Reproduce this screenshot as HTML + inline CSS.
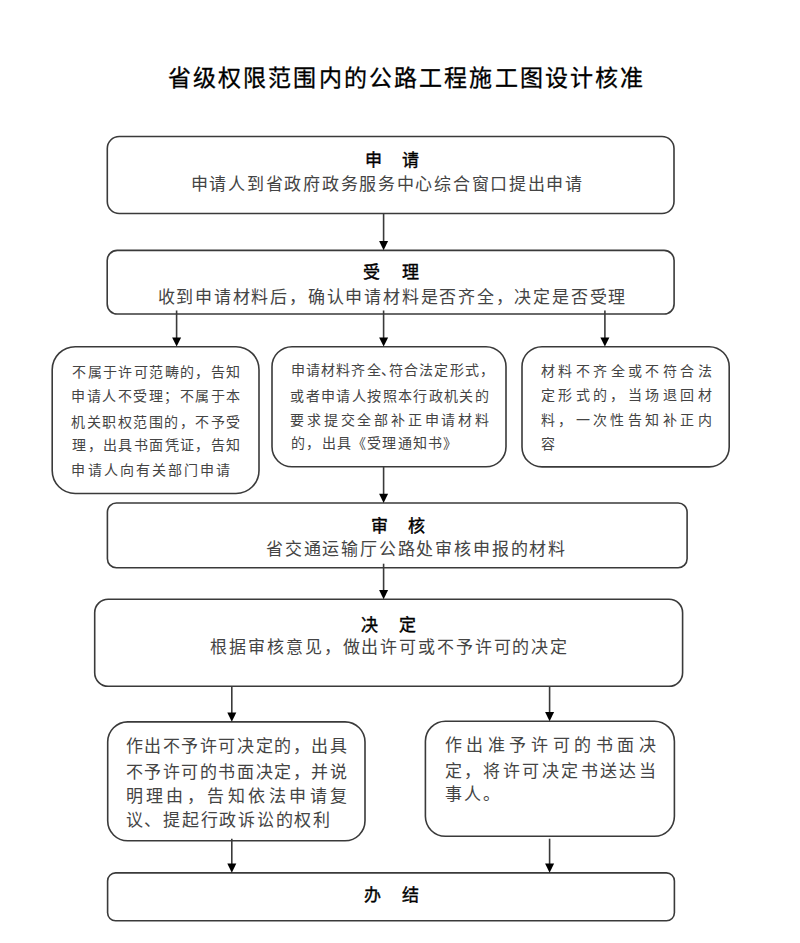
<!DOCTYPE html>
<html lang="zh-CN"><head><meta charset="utf-8"><style>
html,body{margin:0;padding:0;background:#fff;width:800px;height:943px;overflow:hidden}
#c{position:relative;width:800px;height:943px}
svg{position:absolute;left:0;top:0}
span{position:absolute;display:block;text-align:center;white-space:nowrap;font-family:"Liberation Sans", sans-serif;color:#111}
</style></head><body><div id="c">
<svg width="800" height="943" viewBox="0 0 800 943">
<rect x="107.3" y="136.5" width="566.70" height="77.00" rx="12" ry="12" fill="none" stroke="#3a3a3a" stroke-width="1.6"/>
<rect x="107.2" y="250.4" width="566.90" height="63.60" rx="10" ry="10" fill="none" stroke="#3a3a3a" stroke-width="1.6"/>
<rect x="52.2" y="346.7" width="206.80" height="146.80" rx="23" ry="23" fill="none" stroke="#3a3a3a" stroke-width="1.6"/>
<rect x="272.0" y="346.7" width="234.00" height="120.10" rx="20" ry="20" fill="none" stroke="#3a3a3a" stroke-width="1.6"/>
<rect x="522.0" y="346.7" width="207.20" height="120.20" rx="20" ry="20" fill="none" stroke="#3a3a3a" stroke-width="1.6"/>
<rect x="107.4" y="503.0" width="579.70" height="64.80" rx="9" ry="9" fill="none" stroke="#3a3a3a" stroke-width="1.6"/>
<rect x="94.7" y="599.2" width="587.90" height="87.10" rx="13.5" ry="13.5" fill="none" stroke="#3a3a3a" stroke-width="1.6"/>
<rect x="107.7" y="721.9" width="257.30" height="118.90" rx="20" ry="20" fill="none" stroke="#3a3a3a" stroke-width="1.6"/>
<rect x="425.4" y="721.3" width="249.00" height="115.00" rx="20" ry="20" fill="none" stroke="#3a3a3a" stroke-width="1.6"/>
<rect x="107.6" y="872.9" width="566.80" height="47.90" rx="8" ry="8" fill="none" stroke="#3a3a3a" stroke-width="1.6"/>
<line x1="383.6" y1="213.5" x2="383.6" y2="241.9" stroke="#3a3a3a" stroke-width="1.6"/>
<path d="M379.10 241.10 L388.10 241.10 L383.6 250.30 Z" fill="#000"/>
<line x1="176.6" y1="310.5" x2="176.6" y2="338.2" stroke="#3a3a3a" stroke-width="1.6"/>
<path d="M172.10 337.40 L181.10 337.40 L176.6 346.60 Z" fill="#000"/>
<line x1="383.6" y1="310.5" x2="383.6" y2="338.2" stroke="#3a3a3a" stroke-width="1.6"/>
<path d="M379.10 337.40 L388.10 337.40 L383.6 346.60 Z" fill="#000"/>
<line x1="604.9" y1="310.5" x2="604.9" y2="338.2" stroke="#3a3a3a" stroke-width="1.6"/>
<path d="M600.40 337.40 L609.40 337.40 L604.9 346.60 Z" fill="#000"/>
<line x1="383.6" y1="466.8" x2="383.6" y2="494.5" stroke="#3a3a3a" stroke-width="1.6"/>
<path d="M379.10 493.70 L388.10 493.70 L383.6 502.90 Z" fill="#000"/>
<line x1="383.6" y1="563.7" x2="383.6" y2="590.8" stroke="#3a3a3a" stroke-width="1.6"/>
<path d="M379.10 590.00 L388.10 590.00 L383.6 599.20 Z" fill="#000"/>
<line x1="231.8" y1="686.3" x2="231.8" y2="713.4" stroke="#3a3a3a" stroke-width="1.6"/>
<path d="M227.30 712.60 L236.30 712.60 L231.8 721.80 Z" fill="#000"/>
<line x1="549.6" y1="686.3" x2="549.6" y2="712.8" stroke="#3a3a3a" stroke-width="1.6"/>
<path d="M545.10 712.00 L554.10 712.00 L549.6 721.20 Z" fill="#000"/>
<line x1="231.8" y1="838.7" x2="231.8" y2="864.4" stroke="#3a3a3a" stroke-width="1.6"/>
<path d="M227.30 863.60 L236.30 863.60 L231.8 872.80 Z" fill="#000"/>
<line x1="549.6" y1="838.7" x2="549.6" y2="864.4" stroke="#3a3a3a" stroke-width="1.6"/>
<path d="M545.10 863.60 L554.10 863.60 L549.6 872.80 Z" fill="#000"/>
</svg>
<span style="left:167.62px;top:63.62px;width:23px;height:29px;line-height:29px;font-size:23px;-webkit-text-stroke:0.3px #000;color:#000;">省</span>
<span style="left:192.77px;top:63.62px;width:23px;height:29px;line-height:29px;font-size:23px;-webkit-text-stroke:0.3px #000;color:#000;">级</span>
<span style="left:217.93px;top:63.62px;width:23px;height:29px;line-height:29px;font-size:23px;-webkit-text-stroke:0.3px #000;color:#000;">权</span>
<span style="left:243.08px;top:63.62px;width:23px;height:29px;line-height:29px;font-size:23px;-webkit-text-stroke:0.3px #000;color:#000;">限</span>
<span style="left:268.23px;top:63.62px;width:23px;height:29px;line-height:29px;font-size:23px;-webkit-text-stroke:0.3px #000;color:#000;">范</span>
<span style="left:293.39px;top:63.62px;width:23px;height:29px;line-height:29px;font-size:23px;-webkit-text-stroke:0.3px #000;color:#000;">围</span>
<span style="left:318.54px;top:63.62px;width:23px;height:29px;line-height:29px;font-size:23px;-webkit-text-stroke:0.3px #000;color:#000;">内</span>
<span style="left:343.69px;top:63.62px;width:23px;height:29px;line-height:29px;font-size:23px;-webkit-text-stroke:0.3px #000;color:#000;">的</span>
<span style="left:368.85px;top:63.62px;width:23px;height:29px;line-height:29px;font-size:23px;-webkit-text-stroke:0.3px #000;color:#000;">公</span>
<span style="left:394.00px;top:63.62px;width:23px;height:29px;line-height:29px;font-size:23px;-webkit-text-stroke:0.3px #000;color:#000;">路</span>
<span style="left:419.15px;top:63.62px;width:23px;height:29px;line-height:29px;font-size:23px;-webkit-text-stroke:0.3px #000;color:#000;">工</span>
<span style="left:444.31px;top:63.62px;width:23px;height:29px;line-height:29px;font-size:23px;-webkit-text-stroke:0.3px #000;color:#000;">程</span>
<span style="left:469.46px;top:63.62px;width:23px;height:29px;line-height:29px;font-size:23px;-webkit-text-stroke:0.3px #000;color:#000;">施</span>
<span style="left:494.61px;top:63.62px;width:23px;height:29px;line-height:29px;font-size:23px;-webkit-text-stroke:0.3px #000;color:#000;">工</span>
<span style="left:519.77px;top:63.62px;width:23px;height:29px;line-height:29px;font-size:23px;-webkit-text-stroke:0.3px #000;color:#000;">图</span>
<span style="left:544.92px;top:63.62px;width:23px;height:29px;line-height:29px;font-size:23px;-webkit-text-stroke:0.3px #000;color:#000;">设</span>
<span style="left:570.07px;top:63.62px;width:23px;height:29px;line-height:29px;font-size:23px;-webkit-text-stroke:0.3px #000;color:#000;">计</span>
<span style="left:595.23px;top:63.62px;width:23px;height:29px;line-height:29px;font-size:23px;-webkit-text-stroke:0.3px #000;color:#000;">核</span>
<span style="left:620.38px;top:63.62px;width:23px;height:29px;line-height:29px;font-size:23px;-webkit-text-stroke:0.3px #000;color:#000;">准</span>
<span style="left:364.97px;top:149.57px;width:17px;height:21px;line-height:21px;font-size:17px;-webkit-text-stroke:0.4px #000;color:#000;">申</span>
<span style="left:401.78px;top:149.57px;width:17px;height:21px;line-height:21px;font-size:17px;-webkit-text-stroke:0.4px #000;color:#000;">请</span>
<span style="left:190.74px;top:173.69px;width:17px;height:21px;line-height:21px;font-size:17px;color:#444;">申</span>
<span style="left:209.46px;top:173.69px;width:17px;height:21px;line-height:21px;font-size:17px;color:#444;">请</span>
<span style="left:228.18px;top:173.69px;width:17px;height:21px;line-height:21px;font-size:17px;color:#444;">人</span>
<span style="left:246.90px;top:173.69px;width:17px;height:21px;line-height:21px;font-size:17px;color:#444;">到</span>
<span style="left:265.63px;top:173.69px;width:17px;height:21px;line-height:21px;font-size:17px;color:#444;">省</span>
<span style="left:284.35px;top:173.69px;width:17px;height:21px;line-height:21px;font-size:17px;color:#444;">政</span>
<span style="left:303.07px;top:173.69px;width:17px;height:21px;line-height:21px;font-size:17px;color:#444;">府</span>
<span style="left:321.79px;top:173.69px;width:17px;height:21px;line-height:21px;font-size:17px;color:#444;">政</span>
<span style="left:340.51px;top:173.69px;width:17px;height:21px;line-height:21px;font-size:17px;color:#444;">务</span>
<span style="left:359.23px;top:173.69px;width:17px;height:21px;line-height:21px;font-size:17px;color:#444;">服</span>
<span style="left:377.95px;top:173.69px;width:17px;height:21px;line-height:21px;font-size:17px;color:#444;">务</span>
<span style="left:396.68px;top:173.69px;width:17px;height:21px;line-height:21px;font-size:17px;color:#444;">中</span>
<span style="left:415.40px;top:173.69px;width:17px;height:21px;line-height:21px;font-size:17px;color:#444;">心</span>
<span style="left:434.12px;top:173.69px;width:17px;height:21px;line-height:21px;font-size:17px;color:#444;">综</span>
<span style="left:452.84px;top:173.69px;width:17px;height:21px;line-height:21px;font-size:17px;color:#444;">合</span>
<span style="left:471.56px;top:173.69px;width:17px;height:21px;line-height:21px;font-size:17px;color:#444;">窗</span>
<span style="left:490.28px;top:173.69px;width:17px;height:21px;line-height:21px;font-size:17px;color:#444;">口</span>
<span style="left:509.01px;top:173.69px;width:17px;height:21px;line-height:21px;font-size:17px;color:#444;">提</span>
<span style="left:527.73px;top:173.69px;width:17px;height:21px;line-height:21px;font-size:17px;color:#444;">出</span>
<span style="left:546.45px;top:173.69px;width:17px;height:21px;line-height:21px;font-size:17px;color:#444;">申</span>
<span style="left:565.17px;top:173.69px;width:17px;height:21px;line-height:21px;font-size:17px;color:#444;">请</span>
<span style="left:363.44px;top:262.27px;width:17px;height:21px;line-height:21px;font-size:17px;-webkit-text-stroke:0.4px #000;color:#000;">受</span>
<span style="left:402.24px;top:262.27px;width:17px;height:21px;line-height:21px;font-size:17px;-webkit-text-stroke:0.4px #000;color:#000;">理</span>
<span style="left:157.55px;top:286.86px;width:17px;height:21px;line-height:21px;font-size:17px;color:#444;">收</span>
<span style="left:176.34px;top:286.86px;width:17px;height:21px;line-height:21px;font-size:17px;color:#444;">到</span>
<span style="left:195.13px;top:286.86px;width:17px;height:21px;line-height:21px;font-size:17px;color:#444;">申</span>
<span style="left:213.91px;top:286.86px;width:17px;height:21px;line-height:21px;font-size:17px;color:#444;">请</span>
<span style="left:232.70px;top:286.86px;width:17px;height:21px;line-height:21px;font-size:17px;color:#444;">材</span>
<span style="left:251.48px;top:286.86px;width:17px;height:21px;line-height:21px;font-size:17px;color:#444;">料</span>
<span style="left:270.27px;top:286.86px;width:17px;height:21px;line-height:21px;font-size:17px;color:#444;">后</span>
<span style="left:289.05px;top:286.86px;width:17px;height:21px;line-height:21px;font-size:17px;color:#444;">，</span>
<span style="left:307.84px;top:286.86px;width:17px;height:21px;line-height:21px;font-size:17px;color:#444;">确</span>
<span style="left:326.62px;top:286.86px;width:17px;height:21px;line-height:21px;font-size:17px;color:#444;">认</span>
<span style="left:345.41px;top:286.86px;width:17px;height:21px;line-height:21px;font-size:17px;color:#444;">申</span>
<span style="left:364.19px;top:286.86px;width:17px;height:21px;line-height:21px;font-size:17px;color:#444;">请</span>
<span style="left:382.98px;top:286.86px;width:17px;height:21px;line-height:21px;font-size:17px;color:#444;">材</span>
<span style="left:401.76px;top:286.86px;width:17px;height:21px;line-height:21px;font-size:17px;color:#444;">料</span>
<span style="left:420.55px;top:286.86px;width:17px;height:21px;line-height:21px;font-size:17px;color:#444;">是</span>
<span style="left:439.33px;top:286.86px;width:17px;height:21px;line-height:21px;font-size:17px;color:#444;">否</span>
<span style="left:458.12px;top:286.86px;width:17px;height:21px;line-height:21px;font-size:17px;color:#444;">齐</span>
<span style="left:476.90px;top:286.86px;width:17px;height:21px;line-height:21px;font-size:17px;color:#444;">全</span>
<span style="left:495.69px;top:286.86px;width:17px;height:21px;line-height:21px;font-size:17px;color:#444;">，</span>
<span style="left:514.47px;top:286.86px;width:17px;height:21px;line-height:21px;font-size:17px;color:#444;">决</span>
<span style="left:533.26px;top:286.86px;width:17px;height:21px;line-height:21px;font-size:17px;color:#444;">定</span>
<span style="left:552.04px;top:286.86px;width:17px;height:21px;line-height:21px;font-size:17px;color:#444;">是</span>
<span style="left:570.83px;top:286.86px;width:17px;height:21px;line-height:21px;font-size:17px;color:#444;">否</span>
<span style="left:589.61px;top:286.86px;width:17px;height:21px;line-height:21px;font-size:17px;color:#444;">受</span>
<span style="left:608.40px;top:286.86px;width:17px;height:21px;line-height:21px;font-size:17px;color:#444;">理</span>
<span style="left:72.16px;top:362.88px;width:14px;height:18px;line-height:18px;font-size:14px;color:#444;">不</span>
<span style="left:87.55px;top:362.88px;width:14px;height:18px;line-height:18px;font-size:14px;color:#444;">属</span>
<span style="left:102.94px;top:362.88px;width:14px;height:18px;line-height:18px;font-size:14px;color:#444;">于</span>
<span style="left:118.33px;top:362.88px;width:14px;height:18px;line-height:18px;font-size:14px;color:#444;">许</span>
<span style="left:133.72px;top:362.88px;width:14px;height:18px;line-height:18px;font-size:14px;color:#444;">可</span>
<span style="left:149.12px;top:362.88px;width:14px;height:18px;line-height:18px;font-size:14px;color:#444;">范</span>
<span style="left:164.51px;top:362.88px;width:14px;height:18px;line-height:18px;font-size:14px;color:#444;">畴</span>
<span style="left:179.90px;top:362.88px;width:14px;height:18px;line-height:18px;font-size:14px;color:#444;">的</span>
<span style="left:195.29px;top:362.88px;width:14px;height:18px;line-height:18px;font-size:14px;color:#444;">，</span>
<span style="left:210.68px;top:362.88px;width:14px;height:18px;line-height:18px;font-size:14px;color:#444;">告</span>
<span style="left:226.07px;top:362.88px;width:14px;height:18px;line-height:18px;font-size:14px;color:#444;">知</span>
<span style="left:71.46px;top:387.47px;width:14px;height:18px;line-height:18px;font-size:14px;color:#444;">申</span>
<span style="left:86.92px;top:387.47px;width:14px;height:18px;line-height:18px;font-size:14px;color:#444;">请</span>
<span style="left:102.38px;top:387.47px;width:14px;height:18px;line-height:18px;font-size:14px;color:#444;">人</span>
<span style="left:117.84px;top:387.47px;width:14px;height:18px;line-height:18px;font-size:14px;color:#444;">不</span>
<span style="left:133.30px;top:387.47px;width:14px;height:18px;line-height:18px;font-size:14px;color:#444;">受</span>
<span style="left:148.77px;top:387.47px;width:14px;height:18px;line-height:18px;font-size:14px;color:#444;">理</span>
<span style="left:164.23px;top:387.47px;width:14px;height:18px;line-height:18px;font-size:14px;color:#444;">；</span>
<span style="left:179.69px;top:387.47px;width:14px;height:18px;line-height:18px;font-size:14px;color:#444;">不</span>
<span style="left:195.15px;top:387.47px;width:14px;height:18px;line-height:18px;font-size:14px;color:#444;">属</span>
<span style="left:210.61px;top:387.47px;width:14px;height:18px;line-height:18px;font-size:14px;color:#444;">于</span>
<span style="left:226.07px;top:387.47px;width:14px;height:18px;line-height:18px;font-size:14px;color:#444;">本</span>
<span style="left:71.31px;top:412.52px;width:14px;height:18px;line-height:18px;font-size:14px;color:#444;">机</span>
<span style="left:86.79px;top:412.52px;width:14px;height:18px;line-height:18px;font-size:14px;color:#444;">关</span>
<span style="left:102.26px;top:412.52px;width:14px;height:18px;line-height:18px;font-size:14px;color:#444;">职</span>
<span style="left:117.74px;top:412.52px;width:14px;height:18px;line-height:18px;font-size:14px;color:#444;">权</span>
<span style="left:133.21px;top:412.52px;width:14px;height:18px;line-height:18px;font-size:14px;color:#444;">范</span>
<span style="left:148.69px;top:412.52px;width:14px;height:18px;line-height:18px;font-size:14px;color:#444;">围</span>
<span style="left:164.17px;top:412.52px;width:14px;height:18px;line-height:18px;font-size:14px;color:#444;">的</span>
<span style="left:179.64px;top:412.52px;width:14px;height:18px;line-height:18px;font-size:14px;color:#444;">，</span>
<span style="left:195.12px;top:412.52px;width:14px;height:18px;line-height:18px;font-size:14px;color:#444;">不</span>
<span style="left:210.59px;top:412.52px;width:14px;height:18px;line-height:18px;font-size:14px;color:#444;">予</span>
<span style="left:226.07px;top:412.52px;width:14px;height:18px;line-height:18px;font-size:14px;color:#444;">受</span>
<span style="left:72.16px;top:435.98px;width:14px;height:18px;line-height:18px;font-size:14px;color:#444;">理</span>
<span style="left:87.55px;top:435.98px;width:14px;height:18px;line-height:18px;font-size:14px;color:#444;">，</span>
<span style="left:102.94px;top:435.98px;width:14px;height:18px;line-height:18px;font-size:14px;color:#444;">出</span>
<span style="left:118.33px;top:435.98px;width:14px;height:18px;line-height:18px;font-size:14px;color:#444;">具</span>
<span style="left:133.72px;top:435.98px;width:14px;height:18px;line-height:18px;font-size:14px;color:#444;">书</span>
<span style="left:149.12px;top:435.98px;width:14px;height:18px;line-height:18px;font-size:14px;color:#444;">面</span>
<span style="left:164.51px;top:435.98px;width:14px;height:18px;line-height:18px;font-size:14px;color:#444;">凭</span>
<span style="left:179.90px;top:435.98px;width:14px;height:18px;line-height:18px;font-size:14px;color:#444;">证</span>
<span style="left:195.29px;top:435.98px;width:14px;height:18px;line-height:18px;font-size:14px;color:#444;">，</span>
<span style="left:210.68px;top:435.98px;width:14px;height:18px;line-height:18px;font-size:14px;color:#444;">告</span>
<span style="left:226.07px;top:435.98px;width:14px;height:18px;line-height:18px;font-size:14px;color:#444;">知</span>
<span style="left:71.46px;top:460.90px;width:14px;height:18px;line-height:18px;font-size:14px;color:#444;">申</span>
<span style="left:87.50px;top:460.90px;width:14px;height:18px;line-height:18px;font-size:14px;color:#444;">请</span>
<span style="left:103.54px;top:460.90px;width:14px;height:18px;line-height:18px;font-size:14px;color:#444;">人</span>
<span style="left:119.59px;top:460.90px;width:14px;height:18px;line-height:18px;font-size:14px;color:#444;">向</span>
<span style="left:135.63px;top:460.90px;width:14px;height:18px;line-height:18px;font-size:14px;color:#444;">有</span>
<span style="left:151.67px;top:460.90px;width:14px;height:18px;line-height:18px;font-size:14px;color:#444;">关</span>
<span style="left:167.71px;top:460.90px;width:14px;height:18px;line-height:18px;font-size:14px;color:#444;">部</span>
<span style="left:183.76px;top:460.90px;width:14px;height:18px;line-height:18px;font-size:14px;color:#444;">门</span>
<span style="left:199.80px;top:460.90px;width:14px;height:18px;line-height:18px;font-size:14px;color:#444;">申</span>
<span style="left:215.84px;top:460.90px;width:14px;height:18px;line-height:18px;font-size:14px;color:#444;">请</span>
<span style="left:290.53px;top:361.13px;width:14px;height:18px;line-height:18px;font-size:14px;color:#444;">申</span>
<span style="left:305.76px;top:361.13px;width:14px;height:18px;line-height:18px;font-size:14px;color:#444;">请</span>
<span style="left:320.98px;top:361.13px;width:14px;height:18px;line-height:18px;font-size:14px;color:#444;">材</span>
<span style="left:336.21px;top:361.13px;width:14px;height:18px;line-height:18px;font-size:14px;color:#444;">料</span>
<span style="left:351.44px;top:361.13px;width:14px;height:18px;line-height:18px;font-size:14px;color:#444;">齐</span>
<span style="left:366.66px;top:361.13px;width:14px;height:18px;line-height:18px;font-size:14px;color:#444;">全</span>
<span style="left:380.58px;top:361.13px;width:14px;height:18px;line-height:18px;font-size:14px;color:#444;">、</span>
<span style="left:388.74px;top:361.13px;width:14px;height:18px;line-height:18px;font-size:14px;color:#444;">符</span>
<span style="left:403.97px;top:361.13px;width:14px;height:18px;line-height:18px;font-size:14px;color:#444;">合</span>
<span style="left:419.19px;top:361.13px;width:14px;height:18px;line-height:18px;font-size:14px;color:#444;">法</span>
<span style="left:434.42px;top:361.13px;width:14px;height:18px;line-height:18px;font-size:14px;color:#444;">定</span>
<span style="left:449.65px;top:361.13px;width:14px;height:18px;line-height:18px;font-size:14px;color:#444;">形</span>
<span style="left:464.87px;top:361.13px;width:14px;height:18px;line-height:18px;font-size:14px;color:#444;">式</span>
<span style="left:480.10px;top:361.13px;width:14px;height:18px;line-height:18px;font-size:14px;color:#444;">，</span>
<span style="left:290.39px;top:386.94px;width:14px;height:18px;line-height:18px;font-size:14px;color:#444;">或</span>
<span style="left:305.75px;top:386.94px;width:14px;height:18px;line-height:18px;font-size:14px;color:#444;">者</span>
<span style="left:321.11px;top:386.94px;width:14px;height:18px;line-height:18px;font-size:14px;color:#444;">申</span>
<span style="left:336.47px;top:386.94px;width:14px;height:18px;line-height:18px;font-size:14px;color:#444;">请</span>
<span style="left:351.82px;top:386.94px;width:14px;height:18px;line-height:18px;font-size:14px;color:#444;">人</span>
<span style="left:367.18px;top:386.94px;width:14px;height:18px;line-height:18px;font-size:14px;color:#444;">按</span>
<span style="left:382.54px;top:386.94px;width:14px;height:18px;line-height:18px;font-size:14px;color:#444;">照</span>
<span style="left:397.90px;top:386.94px;width:14px;height:18px;line-height:18px;font-size:14px;color:#444;">本</span>
<span style="left:413.26px;top:386.94px;width:14px;height:18px;line-height:18px;font-size:14px;color:#444;">行</span>
<span style="left:428.62px;top:386.94px;width:14px;height:18px;line-height:18px;font-size:14px;color:#444;">政</span>
<span style="left:443.97px;top:386.94px;width:14px;height:18px;line-height:18px;font-size:14px;color:#444;">机</span>
<span style="left:459.33px;top:386.94px;width:14px;height:18px;line-height:18px;font-size:14px;color:#444;">关</span>
<span style="left:474.69px;top:386.94px;width:14px;height:18px;line-height:18px;font-size:14px;color:#444;">的</span>
<span style="left:290.39px;top:411.17px;width:14px;height:18px;line-height:18px;font-size:14px;color:#444;">要</span>
<span style="left:307.16px;top:411.17px;width:14px;height:18px;line-height:18px;font-size:14px;color:#444;">求</span>
<span style="left:323.93px;top:411.17px;width:14px;height:18px;line-height:18px;font-size:14px;color:#444;">提</span>
<span style="left:340.69px;top:411.17px;width:14px;height:18px;line-height:18px;font-size:14px;color:#444;">交</span>
<span style="left:357.46px;top:411.17px;width:14px;height:18px;line-height:18px;font-size:14px;color:#444;">全</span>
<span style="left:374.23px;top:411.17px;width:14px;height:18px;line-height:18px;font-size:14px;color:#444;">部</span>
<span style="left:391.00px;top:411.17px;width:14px;height:18px;line-height:18px;font-size:14px;color:#444;">补</span>
<span style="left:407.77px;top:411.17px;width:14px;height:18px;line-height:18px;font-size:14px;color:#444;">正</span>
<span style="left:424.54px;top:411.17px;width:14px;height:18px;line-height:18px;font-size:14px;color:#444;">申</span>
<span style="left:441.30px;top:411.17px;width:14px;height:18px;line-height:18px;font-size:14px;color:#444;">请</span>
<span style="left:458.07px;top:411.17px;width:14px;height:18px;line-height:18px;font-size:14px;color:#444;">材</span>
<span style="left:474.84px;top:411.17px;width:14px;height:18px;line-height:18px;font-size:14px;color:#444;">料</span>
<span style="left:291.16px;top:434.46px;width:14px;height:18px;line-height:18px;font-size:14px;color:#444;">的</span>
<span style="left:306.37px;top:434.46px;width:14px;height:18px;line-height:18px;font-size:14px;color:#444;">，</span>
<span style="left:321.58px;top:434.46px;width:14px;height:18px;line-height:18px;font-size:14px;color:#444;">出</span>
<span style="left:336.78px;top:434.46px;width:14px;height:18px;line-height:18px;font-size:14px;color:#444;">具</span>
<span style="left:351.99px;top:434.46px;width:14px;height:18px;line-height:18px;font-size:14px;color:#444;">《</span>
<span style="left:367.20px;top:434.46px;width:14px;height:18px;line-height:18px;font-size:14px;color:#444;">受</span>
<span style="left:382.41px;top:434.46px;width:14px;height:18px;line-height:18px;font-size:14px;color:#444;">理</span>
<span style="left:397.62px;top:434.46px;width:14px;height:18px;line-height:18px;font-size:14px;color:#444;">通</span>
<span style="left:412.82px;top:434.46px;width:14px;height:18px;line-height:18px;font-size:14px;color:#444;">知</span>
<span style="left:428.03px;top:434.46px;width:14px;height:18px;line-height:18px;font-size:14px;color:#444;">书</span>
<span style="left:443.24px;top:434.46px;width:14px;height:18px;line-height:18px;font-size:14px;color:#444;">》</span>
<span style="left:540.70px;top:361.78px;width:14px;height:18px;line-height:18px;font-size:14px;color:#444;">材</span>
<span style="left:558.16px;top:361.78px;width:14px;height:18px;line-height:18px;font-size:14px;color:#444;">料</span>
<span style="left:575.62px;top:361.78px;width:14px;height:18px;line-height:18px;font-size:14px;color:#444;">不</span>
<span style="left:593.08px;top:361.78px;width:14px;height:18px;line-height:18px;font-size:14px;color:#444;">齐</span>
<span style="left:610.54px;top:361.78px;width:14px;height:18px;line-height:18px;font-size:14px;color:#444;">全</span>
<span style="left:628.00px;top:361.78px;width:14px;height:18px;line-height:18px;font-size:14px;color:#444;">或</span>
<span style="left:645.46px;top:361.78px;width:14px;height:18px;line-height:18px;font-size:14px;color:#444;">不</span>
<span style="left:662.92px;top:361.78px;width:14px;height:18px;line-height:18px;font-size:14px;color:#444;">符</span>
<span style="left:680.38px;top:361.78px;width:14px;height:18px;line-height:18px;font-size:14px;color:#444;">合</span>
<span style="left:697.84px;top:361.78px;width:14px;height:18px;line-height:18px;font-size:14px;color:#444;">法</span>
<span style="left:540.70px;top:385.99px;width:14px;height:18px;line-height:18px;font-size:14px;color:#444;">定</span>
<span style="left:558.14px;top:385.99px;width:14px;height:18px;line-height:18px;font-size:14px;color:#444;">形</span>
<span style="left:575.59px;top:385.99px;width:14px;height:18px;line-height:18px;font-size:14px;color:#444;">式</span>
<span style="left:593.03px;top:385.99px;width:14px;height:18px;line-height:18px;font-size:14px;color:#444;">的</span>
<span style="left:610.47px;top:385.99px;width:14px;height:18px;line-height:18px;font-size:14px;color:#444;">，</span>
<span style="left:627.92px;top:385.99px;width:14px;height:18px;line-height:18px;font-size:14px;color:#444;">当</span>
<span style="left:645.36px;top:385.99px;width:14px;height:18px;line-height:18px;font-size:14px;color:#444;">场</span>
<span style="left:662.80px;top:385.99px;width:14px;height:18px;line-height:18px;font-size:14px;color:#444;">退</span>
<span style="left:680.25px;top:385.99px;width:14px;height:18px;line-height:18px;font-size:14px;color:#444;">回</span>
<span style="left:697.69px;top:385.99px;width:14px;height:18px;line-height:18px;font-size:14px;color:#444;">材</span>
<span style="left:540.70px;top:410.51px;width:14px;height:18px;line-height:18px;font-size:14px;color:#444;">料</span>
<span style="left:558.14px;top:410.51px;width:14px;height:18px;line-height:18px;font-size:14px;color:#444;">，</span>
<span style="left:575.59px;top:410.51px;width:14px;height:18px;line-height:18px;font-size:14px;color:#444;">一</span>
<span style="left:593.03px;top:410.51px;width:14px;height:18px;line-height:18px;font-size:14px;color:#444;">次</span>
<span style="left:610.47px;top:410.51px;width:14px;height:18px;line-height:18px;font-size:14px;color:#444;">性</span>
<span style="left:627.92px;top:410.51px;width:14px;height:18px;line-height:18px;font-size:14px;color:#444;">告</span>
<span style="left:645.36px;top:410.51px;width:14px;height:18px;line-height:18px;font-size:14px;color:#444;">知</span>
<span style="left:662.80px;top:410.51px;width:14px;height:18px;line-height:18px;font-size:14px;color:#444;">补</span>
<span style="left:680.25px;top:410.51px;width:14px;height:18px;line-height:18px;font-size:14px;color:#444;">正</span>
<span style="left:697.69px;top:410.51px;width:14px;height:18px;line-height:18px;font-size:14px;color:#444;">内</span>
<span style="left:540.70px;top:435.15px;width:14px;height:18px;line-height:18px;font-size:14px;color:#444;">容</span>
<span style="left:370.98px;top:515.80px;width:17px;height:21px;line-height:21px;font-size:17px;-webkit-text-stroke:0.4px #000;color:#000;">审</span>
<span style="left:408.32px;top:515.80px;width:17px;height:21px;line-height:21px;font-size:17px;-webkit-text-stroke:0.4px #000;color:#000;">核</span>
<span style="left:265.98px;top:539.46px;width:17px;height:21px;line-height:21px;font-size:17px;color:#444;">省</span>
<span style="left:284.79px;top:539.46px;width:17px;height:21px;line-height:21px;font-size:17px;color:#444;">交</span>
<span style="left:303.61px;top:539.46px;width:17px;height:21px;line-height:21px;font-size:17px;color:#444;">通</span>
<span style="left:322.42px;top:539.46px;width:17px;height:21px;line-height:21px;font-size:17px;color:#444;">运</span>
<span style="left:341.23px;top:539.46px;width:17px;height:21px;line-height:21px;font-size:17px;color:#444;">输</span>
<span style="left:360.04px;top:539.46px;width:17px;height:21px;line-height:21px;font-size:17px;color:#444;">厅</span>
<span style="left:378.86px;top:539.46px;width:17px;height:21px;line-height:21px;font-size:17px;color:#444;">公</span>
<span style="left:397.67px;top:539.46px;width:17px;height:21px;line-height:21px;font-size:17px;color:#444;">路</span>
<span style="left:416.48px;top:539.46px;width:17px;height:21px;line-height:21px;font-size:17px;color:#444;">处</span>
<span style="left:435.29px;top:539.46px;width:17px;height:21px;line-height:21px;font-size:17px;color:#444;">审</span>
<span style="left:454.11px;top:539.46px;width:17px;height:21px;line-height:21px;font-size:17px;color:#444;">核</span>
<span style="left:472.92px;top:539.46px;width:17px;height:21px;line-height:21px;font-size:17px;color:#444;">申</span>
<span style="left:491.73px;top:539.46px;width:17px;height:21px;line-height:21px;font-size:17px;color:#444;">报</span>
<span style="left:510.54px;top:539.46px;width:17px;height:21px;line-height:21px;font-size:17px;color:#444;">的</span>
<span style="left:529.36px;top:539.46px;width:17px;height:21px;line-height:21px;font-size:17px;color:#444;">材</span>
<span style="left:548.17px;top:539.46px;width:17px;height:21px;line-height:21px;font-size:17px;color:#444;">料</span>
<span style="left:360.67px;top:614.58px;width:17px;height:21px;line-height:21px;font-size:17px;-webkit-text-stroke:0.4px #000;color:#000;">决</span>
<span style="left:399.47px;top:614.58px;width:17px;height:21px;line-height:21px;font-size:17px;-webkit-text-stroke:0.4px #000;color:#000;">定</span>
<span style="left:210.41px;top:636.80px;width:17px;height:21px;line-height:21px;font-size:17px;color:#444;">根</span>
<span style="left:229.29px;top:636.80px;width:17px;height:21px;line-height:21px;font-size:17px;color:#444;">据</span>
<span style="left:248.17px;top:636.80px;width:17px;height:21px;line-height:21px;font-size:17px;color:#444;">审</span>
<span style="left:267.05px;top:636.80px;width:17px;height:21px;line-height:21px;font-size:17px;color:#444;">核</span>
<span style="left:285.93px;top:636.80px;width:17px;height:21px;line-height:21px;font-size:17px;color:#444;">意</span>
<span style="left:304.81px;top:636.80px;width:17px;height:21px;line-height:21px;font-size:17px;color:#444;">见</span>
<span style="left:323.69px;top:636.80px;width:17px;height:21px;line-height:21px;font-size:17px;color:#444;">，</span>
<span style="left:342.57px;top:636.80px;width:17px;height:21px;line-height:21px;font-size:17px;color:#444;">做</span>
<span style="left:361.45px;top:636.80px;width:17px;height:21px;line-height:21px;font-size:17px;color:#444;">出</span>
<span style="left:380.33px;top:636.80px;width:17px;height:21px;line-height:21px;font-size:17px;color:#444;">许</span>
<span style="left:399.21px;top:636.80px;width:17px;height:21px;line-height:21px;font-size:17px;color:#444;">可</span>
<span style="left:418.09px;top:636.80px;width:17px;height:21px;line-height:21px;font-size:17px;color:#444;">或</span>
<span style="left:436.97px;top:636.80px;width:17px;height:21px;line-height:21px;font-size:17px;color:#444;">不</span>
<span style="left:455.85px;top:636.80px;width:17px;height:21px;line-height:21px;font-size:17px;color:#444;">予</span>
<span style="left:474.73px;top:636.80px;width:17px;height:21px;line-height:21px;font-size:17px;color:#444;">许</span>
<span style="left:493.61px;top:636.80px;width:17px;height:21px;line-height:21px;font-size:17px;color:#444;">可</span>
<span style="left:512.49px;top:636.80px;width:17px;height:21px;line-height:21px;font-size:17px;color:#444;">的</span>
<span style="left:531.37px;top:636.80px;width:17px;height:21px;line-height:21px;font-size:17px;color:#444;">决</span>
<span style="left:550.25px;top:636.80px;width:17px;height:21px;line-height:21px;font-size:17px;color:#444;">定</span>
<span style="left:125.52px;top:736.42px;width:17px;height:21px;line-height:21px;font-size:17px;color:#444;">作</span>
<span style="left:144.11px;top:736.42px;width:17px;height:21px;line-height:21px;font-size:17px;color:#444;">出</span>
<span style="left:162.70px;top:736.42px;width:17px;height:21px;line-height:21px;font-size:17px;color:#444;">不</span>
<span style="left:181.29px;top:736.42px;width:17px;height:21px;line-height:21px;font-size:17px;color:#444;">予</span>
<span style="left:199.88px;top:736.42px;width:17px;height:21px;line-height:21px;font-size:17px;color:#444;">许</span>
<span style="left:218.47px;top:736.42px;width:17px;height:21px;line-height:21px;font-size:17px;color:#444;">可</span>
<span style="left:237.07px;top:736.42px;width:17px;height:21px;line-height:21px;font-size:17px;color:#444;">决</span>
<span style="left:255.66px;top:736.42px;width:17px;height:21px;line-height:21px;font-size:17px;color:#444;">定</span>
<span style="left:274.25px;top:736.42px;width:17px;height:21px;line-height:21px;font-size:17px;color:#444;">的</span>
<span style="left:292.84px;top:736.42px;width:17px;height:21px;line-height:21px;font-size:17px;color:#444;">，</span>
<span style="left:311.43px;top:736.42px;width:17px;height:21px;line-height:21px;font-size:17px;color:#444;">出</span>
<span style="left:330.02px;top:736.42px;width:17px;height:21px;line-height:21px;font-size:17px;color:#444;">具</span>
<span style="left:125.52px;top:761.53px;width:17px;height:21px;line-height:21px;font-size:17px;color:#444;">不</span>
<span style="left:144.11px;top:761.53px;width:17px;height:21px;line-height:21px;font-size:17px;color:#444;">予</span>
<span style="left:162.70px;top:761.53px;width:17px;height:21px;line-height:21px;font-size:17px;color:#444;">许</span>
<span style="left:181.29px;top:761.53px;width:17px;height:21px;line-height:21px;font-size:17px;color:#444;">可</span>
<span style="left:199.88px;top:761.53px;width:17px;height:21px;line-height:21px;font-size:17px;color:#444;">的</span>
<span style="left:218.47px;top:761.53px;width:17px;height:21px;line-height:21px;font-size:17px;color:#444;">书</span>
<span style="left:237.07px;top:761.53px;width:17px;height:21px;line-height:21px;font-size:17px;color:#444;">面</span>
<span style="left:255.66px;top:761.53px;width:17px;height:21px;line-height:21px;font-size:17px;color:#444;">决</span>
<span style="left:274.25px;top:761.53px;width:17px;height:21px;line-height:21px;font-size:17px;color:#444;">定</span>
<span style="left:292.84px;top:761.53px;width:17px;height:21px;line-height:21px;font-size:17px;color:#444;">，</span>
<span style="left:311.43px;top:761.53px;width:17px;height:21px;line-height:21px;font-size:17px;color:#444;">并</span>
<span style="left:330.02px;top:761.53px;width:17px;height:21px;line-height:21px;font-size:17px;color:#444;">说</span>
<span style="left:125.52px;top:785.68px;width:17px;height:21px;line-height:21px;font-size:17px;color:#444;">明</span>
<span style="left:145.97px;top:785.68px;width:17px;height:21px;line-height:21px;font-size:17px;color:#444;">理</span>
<span style="left:166.42px;top:785.68px;width:17px;height:21px;line-height:21px;font-size:17px;color:#444;">由</span>
<span style="left:186.87px;top:785.68px;width:17px;height:21px;line-height:21px;font-size:17px;color:#444;">，</span>
<span style="left:207.32px;top:785.68px;width:17px;height:21px;line-height:21px;font-size:17px;color:#444;">告</span>
<span style="left:227.77px;top:785.68px;width:17px;height:21px;line-height:21px;font-size:17px;color:#444;">知</span>
<span style="left:248.22px;top:785.68px;width:17px;height:21px;line-height:21px;font-size:17px;color:#444;">依</span>
<span style="left:268.67px;top:785.68px;width:17px;height:21px;line-height:21px;font-size:17px;color:#444;">法</span>
<span style="left:289.12px;top:785.68px;width:17px;height:21px;line-height:21px;font-size:17px;color:#444;">申</span>
<span style="left:309.57px;top:785.68px;width:17px;height:21px;line-height:21px;font-size:17px;color:#444;">请</span>
<span style="left:330.02px;top:785.68px;width:17px;height:21px;line-height:21px;font-size:17px;color:#444;">复</span>
<span style="left:125.52px;top:810.30px;width:17px;height:21px;line-height:21px;font-size:17px;color:#444;">议</span>
<span style="left:144.29px;top:810.30px;width:17px;height:21px;line-height:21px;font-size:17px;color:#444;">、</span>
<span style="left:163.05px;top:810.30px;width:17px;height:21px;line-height:21px;font-size:17px;color:#444;">提</span>
<span style="left:181.82px;top:810.30px;width:17px;height:21px;line-height:21px;font-size:17px;color:#444;">起</span>
<span style="left:200.58px;top:810.30px;width:17px;height:21px;line-height:21px;font-size:17px;color:#444;">行</span>
<span style="left:219.35px;top:810.30px;width:17px;height:21px;line-height:21px;font-size:17px;color:#444;">政</span>
<span style="left:238.11px;top:810.30px;width:17px;height:21px;line-height:21px;font-size:17px;color:#444;">诉</span>
<span style="left:256.88px;top:810.30px;width:17px;height:21px;line-height:21px;font-size:17px;color:#444;">讼</span>
<span style="left:275.64px;top:810.30px;width:17px;height:21px;line-height:21px;font-size:17px;color:#444;">的</span>
<span style="left:294.40px;top:810.30px;width:17px;height:21px;line-height:21px;font-size:17px;color:#444;">权</span>
<span style="left:313.17px;top:810.30px;width:17px;height:21px;line-height:21px;font-size:17px;color:#444;">利</span>
<span style="left:444.67px;top:735.23px;width:17px;height:21px;line-height:21px;font-size:17px;color:#444;">作</span>
<span style="left:466.26px;top:735.23px;width:17px;height:21px;line-height:21px;font-size:17px;color:#444;">出</span>
<span style="left:487.86px;top:735.23px;width:17px;height:21px;line-height:21px;font-size:17px;color:#444;">准</span>
<span style="left:509.45px;top:735.23px;width:17px;height:21px;line-height:21px;font-size:17px;color:#444;">予</span>
<span style="left:531.05px;top:735.23px;width:17px;height:21px;line-height:21px;font-size:17px;color:#444;">许</span>
<span style="left:552.64px;top:735.23px;width:17px;height:21px;line-height:21px;font-size:17px;color:#444;">可</span>
<span style="left:574.24px;top:735.23px;width:17px;height:21px;line-height:21px;font-size:17px;color:#444;">的</span>
<span style="left:595.83px;top:735.23px;width:17px;height:21px;line-height:21px;font-size:17px;color:#444;">书</span>
<span style="left:617.43px;top:735.23px;width:17px;height:21px;line-height:21px;font-size:17px;color:#444;">面</span>
<span style="left:639.02px;top:735.23px;width:17px;height:21px;line-height:21px;font-size:17px;color:#444;">决</span>
<span style="left:444.67px;top:760.53px;width:17px;height:21px;line-height:21px;font-size:17px;color:#444;">定</span>
<span style="left:464.07px;top:760.53px;width:17px;height:21px;line-height:21px;font-size:17px;color:#444;">，</span>
<span style="left:483.48px;top:760.53px;width:17px;height:21px;line-height:21px;font-size:17px;color:#444;">将</span>
<span style="left:502.88px;top:760.53px;width:17px;height:21px;line-height:21px;font-size:17px;color:#444;">许</span>
<span style="left:522.29px;top:760.53px;width:17px;height:21px;line-height:21px;font-size:17px;color:#444;">可</span>
<span style="left:541.69px;top:760.53px;width:17px;height:21px;line-height:21px;font-size:17px;color:#444;">决</span>
<span style="left:561.10px;top:760.53px;width:17px;height:21px;line-height:21px;font-size:17px;color:#444;">定</span>
<span style="left:580.50px;top:760.53px;width:17px;height:21px;line-height:21px;font-size:17px;color:#444;">书</span>
<span style="left:599.91px;top:760.53px;width:17px;height:21px;line-height:21px;font-size:17px;color:#444;">送</span>
<span style="left:619.32px;top:760.53px;width:17px;height:21px;line-height:21px;font-size:17px;color:#444;">达</span>
<span style="left:638.72px;top:760.53px;width:17px;height:21px;line-height:21px;font-size:17px;color:#444;">当</span>
<span style="left:444.67px;top:784.46px;width:17px;height:21px;line-height:21px;font-size:17px;color:#444;">事</span>
<span style="left:464.01px;top:784.46px;width:17px;height:21px;line-height:21px;font-size:17px;color:#444;">人</span>
<span style="left:483.36px;top:784.46px;width:17px;height:21px;line-height:21px;font-size:17px;color:#444;">。</span>
<span style="left:363.52px;top:884.80px;width:17px;height:21px;line-height:21px;font-size:17px;-webkit-text-stroke:0.4px #000;color:#000;">办</span>
<span style="left:402.33px;top:884.80px;width:17px;height:21px;line-height:21px;font-size:17px;-webkit-text-stroke:0.4px #000;color:#000;">结</span>
</div></body></html>
